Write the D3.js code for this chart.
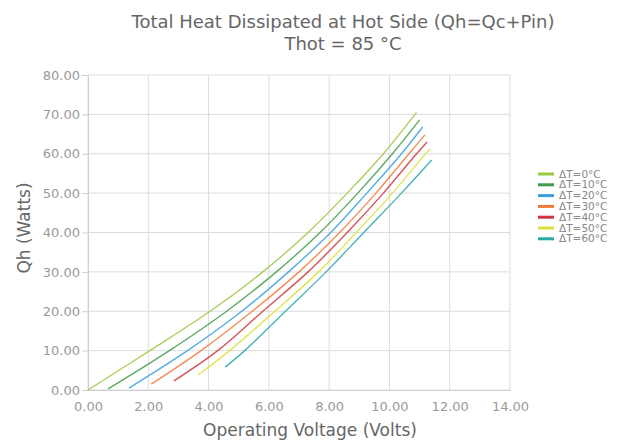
<!DOCTYPE html>
<html>
<head>
<meta charset="utf-8">
<script src="https://cdn.jsdelivr.net/npm/d3@7"></script>
<style>
  body { margin: 0; background: #fff; }
  text { font-family: "DejaVu Sans", sans-serif; }
</style>
</head>
<body>
<div class="chart"></div>
<script>
var labels = ['ΔT=0°C', 'ΔT=10°C', 'ΔT=20°C', 'ΔT=30°C', 'ΔT=40°C', 'ΔT=50°C', 'ΔT=60°C'];
var colors = ['#9cc63f', '#3f9b4a', '#3a9ede', '#f07a35', '#cf3540', '#d9e03c', '#2aa6a8'];

// voltage (V) / heat (W) pairs
var volts0 = [0, 2.05, 4.05, 5.8, 7.3, 8.6, 9.8, 10.9];
var heat0  = [0, 10, 20, 30, 40, 50, 60, 70.5];
var volts10 = [0.67, 2.7, 4.6, 6.25, 7.7, 8.95, 10.1, 11.0];
var heat10  = [0.3, 10, 20, 30, 40, 50, 60, 68.6];
var volts20 = [1.36, 3.3, 5.1, 6.65, 8.05, 9.25, 10.4, 11.1];
var heat20  = [0.5, 10, 20, 30, 40, 50, 60, 66.8];
var volts30 = [2.1, 3.75, 5.45, 7.0, 8.35, 9.55, 10.65, 11.18];
var heat30  = [1.5, 10, 20, 30, 40, 50, 60, 64.8];
var volts40 = [2.85, 4.3, 5.8, 7.3, 8.6, 9.8, 10.9, 11.25];
var heat40  = [2.3, 10, 20, 30, 40, 50, 60, 63];
var volts50 = [3.65, 4.7, 6.2, 7.65, 8.9, 10.1, 11.2, 11.35];
var heat50  = [3.8, 10, 20, 30, 40, 50, 60, 61.2];
var volts60 = [4.55, 5.2, 6.55, 7.9, 9.15, 10.4, 11.4];
var heat60  = [5.8, 10, 20, 30, 40, 50, 58.4];

var xTicks = [0, 2, 4, 6, 8, 10, 12, 14];
var yTicks = [0, 10, 20, 30, 40, 50, 60, 70, 80];

var allVolts = [volts0, volts10, volts20, volts30, volts40, volts50, volts60];
var allHeat = [heat0, heat10, heat20, heat30, heat40, heat50, heat60];

var series = labels.map(function(label, i) {
  return {
    label: label,
    color: colors[i],
    points: allVolts[i].map(function(v, j) { return [v, allHeat[i][j]]; })
  };
});

var width = 629, height = 442;
var margin = {top: 75, right: 119, bottom: 52, left: 88};

var svg = d3.select('.chart').append('svg')
  .attr('width', width)
  .attr('height', height);

var x = d3.scaleLinear().domain([0, 14]).range([margin.left, width - margin.right]);
var y = d3.scaleLinear().domain([0, 80]).range([height - margin.bottom, margin.top]);

// grid
var grid = svg.append('g').attr('class', 'grid');
grid.selectAll('.vline').data(xTicks).enter().append('line')
  .attr('x1', x).attr('x2', x)
  .attr('y1', y(0)).attr('y2', y(80))
  .attr('stroke', '#dcdcdc');
grid.selectAll('.hline').data(yTicks).enter().append('line')
  .attr('x1', x(0)).attr('x2', x(14))
  .attr('y1', y).attr('y2', y)
  .attr('stroke', '#dcdcdc');

// axes
var xAxis = svg.append('g')
  .attr('transform', 'translate(0,' + y(0) + ')')
  .call(d3.axisBottom(x).tickValues(xTicks).tickSize(0).tickPadding(12)
    .tickFormat(d3.format('.2f')));
var yAxis = svg.append('g')
  .attr('transform', 'translate(' + x(0) + ',0)')
  .call(d3.axisLeft(y).tickValues(yTicks).tickSize(6).tickPadding(2)
    .tickFormat(d3.format('.2f')));

[xAxis, yAxis].forEach(function(a) {
  a.select('.domain').attr('stroke', '#cfcfcf');
  a.selectAll('.tick line').attr('stroke', '#cfcfcf');
  a.selectAll('.tick text')
    .attr('fill', '#9a9a9a')
    .style('font-size', '13px')
    .style('font-family', '"DejaVu Sans", sans-serif');
});

// curves
var line = d3.line()
  .x(function(d) { return x(d[0]); })
  .y(function(d) { return y(d[1]); })
  .curve(d3.curveCatmullRom.alpha(0.5));

svg.append('g').attr('class', 'curves')
  .selectAll('path').data(series).enter().append('path')
  .attr('d', function(d) { return line(d.points); })
  .attr('fill', 'none')
  .attr('stroke', function(d) { return d.color; })
  .attr('stroke-width', 1.4)
  .attr('stroke-opacity', 0.85);

// titles
var title = svg.append('text')
  .attr('x', 343).attr('y', 28)
  .attr('text-anchor', 'middle')
  .attr('fill', '#666')
  .style('font-size', '18px');
title.append('tspan').attr('x', 343).text('Total Heat Dissipated at Hot Side (Qh=Qc+Pin)');
title.append('tspan').attr('x', 343).attr('dy', 22).text('Thot = 85 °C');

svg.append('text')
  .attr('x', 310).attr('y', 436)
  .attr('text-anchor', 'middle')
  .attr('fill', '#666')
  .style('font-size', '17px')
  .text('Operating Voltage (Volts)');

svg.append('text')
  .attr('transform', 'translate(30,228) rotate(-90)')
  .attr('text-anchor', 'middle')
  .attr('fill', '#666')
  .style('font-size', '17px')
  .text('Qh (Watts)');

// legend
var legend = svg.append('g').attr('class', 'legend')
  .attr('transform', 'translate(538,174)');
var item = legend.selectAll('g').data(series).enter().append('g')
  .attr('transform', function(d, i) { return 'translate(0,' + (i * 10.8) + ')'; });
item.append('line')
  .attr('x1', 0).attr('x2', 16)
  .attr('stroke', function(d) { return d.color; })
  .attr('stroke-width', 3);
item.append('text')
  .attr('x', 21).attr('dy', '0.35em')
  .attr('fill', '#888')
  .style('font-size', '10.5px')
  .text(function(d) { return d.label; });
</script>
</body>
</html>
